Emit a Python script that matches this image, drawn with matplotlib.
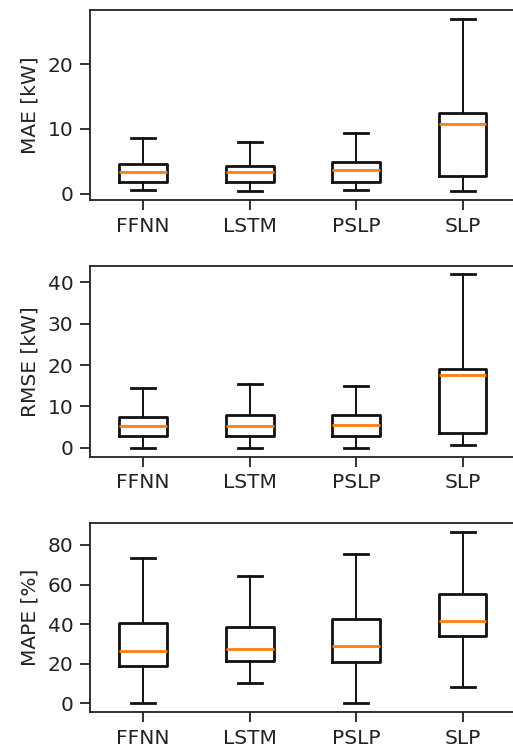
import matplotlib
matplotlib.use('Agg')
import matplotlib.pyplot as plt

# Boxplot summary values (whislo, q1, median, q3, whishi)
MODELS = ['FFNN', 'LSTM', 'PSLP', 'SLP']

MAE_LO = [0.62, 0.36, 0.62, 0.36]
MAE_Q1 = [1.86, 1.75, 1.80, 2.73]
MAE_MED = [3.40, 3.30, 3.70, 10.77]
MAE_Q3 = [4.60, 4.33, 4.85, 12.47]
MAE_HI = [8.60, 8.04, 9.38, 27.06]

RMSE_LO = [0.0, 0.0, 0.0, 0.73]
RMSE_Q1 = [2.82, 2.82, 2.98, 3.70]
RMSE_MED = [5.24, 5.40, 5.65, 17.66]
RMSE_Q3 = [7.42, 7.90, 7.90, 18.95]
RMSE_HI = [14.35, 15.48, 15.0, 41.85]

MAPE_LO = [0.0, 10.4, 0.0, 8.4]
MAPE_Q1 = [19.1, 21.5, 21.1, 34.2]
MAPE_MED = [26.3, 27.7, 29.0, 41.4]
MAPE_Q3 = [40.75, 38.7, 42.8, 55.2]
MAPE_HI = [73.5, 64.4, 75.3, 86.7]

FONT_SIZE = 14.5


def make_stats(lo, q1, med, q3, hi):
    """ Builds the list of dicts that ax.bxp expects """
    return [{'label': m, 'whislo': a, 'q1': b, 'med': c, 'q3': d, 'whishi': e, 'fliers': []}
            for m, a, b, c, d, e in zip(MODELS, lo, q1, med, q3, hi)]


panels = [
    ('MAE [kW]', make_stats(MAE_LO, MAE_Q1, MAE_MED, MAE_Q3, MAE_HI), [0, 10, 20]),
    ('RMSE [kW]', make_stats(RMSE_LO, RMSE_Q1, RMSE_MED, RMSE_Q3, RMSE_HI), [0, 10, 20, 30, 40]),
    ('MAPE [%]', make_stats(MAPE_LO, MAPE_Q1, MAPE_MED, MAPE_Q3, MAPE_HI), [0, 20, 40, 60, 80]),
]

# axes rectangles in figure fractions (right spine falls just outside the picture)
rects = [
    [0.1754, 0.733, 0.830, 0.2537],
    [0.1754, 0.3903, 0.830, 0.2550],
    [0.1754, 0.0494, 0.830, 0.2523],
]

fig = plt.figure(figsize=(5.13, 7.49), dpi=100)
for (ylabel, stats, ticks), rect in zip(panels, rects):
    ax = fig.add_axes(rect)
    ax.bxp(stats, showfliers=False,
           boxprops=dict(linewidth=2.0, color='#111111'),
           whiskerprops=dict(linewidth=1.4, color='#111111'),
           capprops=dict(linewidth=2.0, color='#111111'),
           medianprops=dict(linewidth=2.0, color='#ff7f0e'))
    ax.set_ylabel(ylabel, fontsize=FONT_SIZE, labelpad=6, color='#222222')
    ax.set_yticks(ticks)
    ax.tick_params(labelsize=FONT_SIZE, length=7, width=1.3, pad=5,
                   color='#222222', labelcolor='#222222')
    for s in ax.spines.values():
        s.set_linewidth(1.3)
        s.set_color('#222222')

fig.savefig('out.png', dpi=100)
